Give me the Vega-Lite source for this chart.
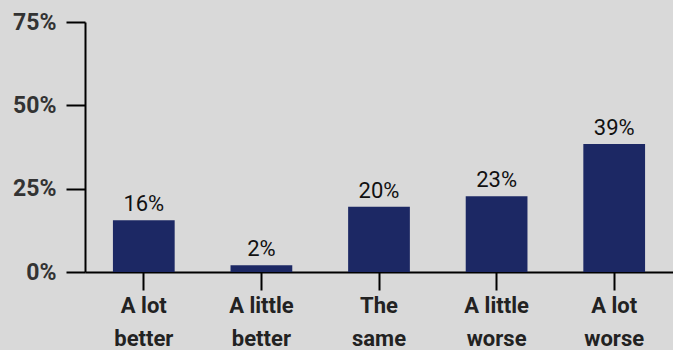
{
  "$schema": "https://vega.github.io/schema/vega-lite/v6.json",
  "autosize": "none",
  "width": 588,
  "height": 250,
  "padding": {"left": 85, "top": 22, "right": 0, "bottom": 78},
  "background": "#d9d9d9",
  "config": {"view": {"stroke": null}, "font": "Roboto"},
  "data": {
    "values": [
      {"answer": "A lot|better", "pct": 15.5, "label": "16%"},
      {"answer": "A little|better", "pct": 2, "label": "2%"},
      {"answer": "The|same", "pct": 19.6, "label": "20%"},
      {"answer": "A little|worse", "pct": 22.7, "label": "23%"},
      {"answer": "A lot|worse", "pct": 38.4, "label": "39%"}
    ]
  },
  "encoding": {
    "x": {
      "field": "answer",
      "type": "nominal",
      "sort": null,
      "scale": {"paddingInner": 0.475, "paddingOuter": 0.2375},
      "axis": {
        "title": null,
        "labelAngle": 0,
        "labelExpr": "split(datum.label, '|')",
        "labelFont": "Roboto",
        "labelFontWeight": "bold",
        "labelFontSize": 22,
        "labelColor": "#222222",
        "labelLineHeight": 33,
        "labelPadding": 5,
        "tickSize": 18,
        "tickWidth": 2,
        "tickColor": "#000000",
        "domainColor": "#000000",
        "domainWidth": 2
      }
    },
    "y": {
      "field": "pct",
      "type": "quantitative",
      "scale": {"domain": [0, 75]},
      "axis": {
        "title": null,
        "values": [0, 25, 50, 75],
        "labelExpr": "datum.value + '%'",
        "labelFont": "Roboto",
        "labelFontWeight": "bold",
        "labelFontSize": 23,
        "labelColor": "#333333",
        "labelPadding": 10,
        "tickSize": 19,
        "tickWidth": 2,
        "tickColor": "#000000",
        "domainColor": "#000000",
        "domainWidth": 2,
        "grid": false
      }
    }
  },
  "layer": [
    {"mark": {"type": "bar", "color": "#1c2864"}},
    {
      "mark": {"type": "text", "baseline": "bottom", "dy": -4, "fontSize": 22, "font": "Roboto", "color": "#111111"},
      "encoding": {"text": {"field": "label", "type": "nominal"}}
    }
  ]
}
